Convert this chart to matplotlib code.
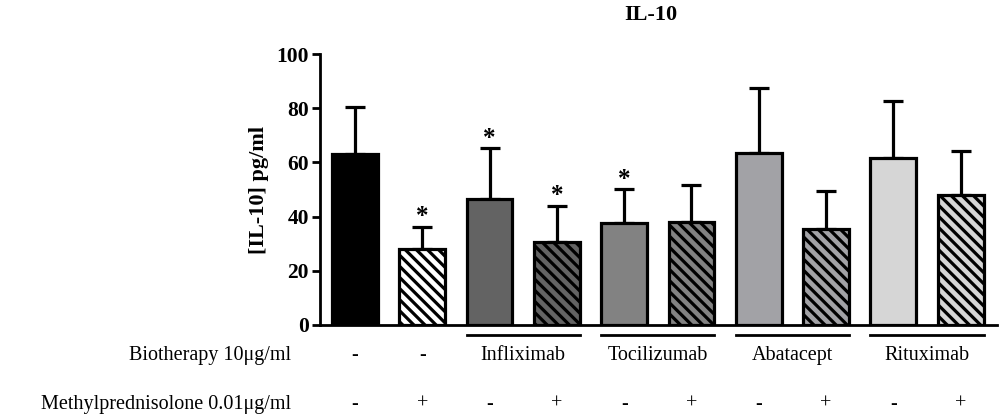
import matplotlib
matplotlib.use("Agg")
import matplotlib.pyplot as plt
import numpy as np

# values (pg/ml)
means = [63.1, 28.0, 46.4, 30.5, 37.8, 37.9, 63.6, 35.5, 61.5, 48.0]
err_top = [80.3, 36.3, 65.2, 44.0, 50.1, 51.5, 87.6, 49.6, 82.8, 64.3]
colors = ["#000000", "#ffffff", "#636363", "#828282", "#a2a2a6", "#d6d6d6"]
bar_colors = [colors[0], colors[1], colors[2], colors[2], colors[3], colors[3],
              colors[4], colors[4], colors[5], colors[5]]
hatched = [False, True, False, True, False, True, False, True, False, True]
stars = [False, True, True, True, True, False, False, False, False, False]
biotherapy = ["-", "-", "Infliximab", "Tocilizumab", "Abatacept", "Rituximab"]
mp = ["-", "+", "-", "+", "-", "+", "-", "+", "-", "+"]

plt.rcParams["font.family"] = ["Liberation Serif", "DejaVu Serif"]
plt.rcParams["hatch.linewidth"] = 2.3
plt.rcParams["hatch.color"] = "black"

fig = plt.figure(figsize=(9.99, 4.18), dpi=100)
ax = fig.add_axes([320/999, 1 - 325/418, 677/999, 271/418])

x = np.arange(len(means))
errs = np.array(err_top) - np.array(means)
for i in range(len(means)):
    ax.bar(x[i], means[i], width=0.68, color=bar_colors[i], edgecolor="black",
           linewidth=2.3, hatch="\\\\\\" if hatched[i] else None, zorder=2)
    ax.errorbar(x[i], means[i], yerr=[[0], [errs[i]]], fmt="none", ecolor="black",
                elinewidth=2.3, capsize=7.5, capthick=2.3, zorder=1)
    if stars[i]:
        ax.text(x[i], err_top[i] - 0.5, "*", ha="center", va="bottom",
                fontsize=18, fontweight="bold")

ax.set_xlim(-0.52, 9.54)
ax.set_ylim(0, 100)
ax.set_yticks([0, 20, 40, 60, 80, 100])
ax.set_xticks([])
for s in ["top", "right"]:
    ax.spines[s].set_visible(False)
ax.spines["left"].set_linewidth(2)
ax.spines["bottom"].set_linewidth(2)
ax.tick_params(axis="y", width=2, length=6, labelsize=15.5, pad=2)
for lab in ax.get_yticklabels():
    lab.set_fontweight("bold")
ax.set_ylabel("[IL-10] pg/ml", fontsize=16, fontweight="bold", labelpad=5)
fig.text(651/999, 1 - 15/418, "IL-10", ha="center", va="center",
         fontsize=16, fontweight="bold")

# treatment rows below the axis
trans = ax.get_xaxis_transform()
y_line = (325 - 335) / 271
y_bio = (325 - 360) / 271
y_mp = (325 - 409) / 271
ax.text(-0.95, y_bio, "Biotherapy 10\u03bcg/ml", transform=trans, ha="right",
        va="baseline", fontsize=14.5, clip_on=False)
ax.text(-0.95, y_mp, "Methylprednisolone 0.01\u03bcg/ml", transform=trans, ha="right",
        va="baseline", fontsize=14.5, clip_on=False)
for i in range(2):
    ax.text(x[i], y_bio, biotherapy[i], transform=trans, ha="center", va="baseline",
            fontsize=14.5, clip_on=False)
for g in range(4):
    left = x[2 + 2 * g] - 0.34
    right = x[3 + 2 * g] + 0.34
    ax.plot([left, right], [y_line, y_line], transform=trans, color="black",
            linewidth=2, clip_on=False)
    ax.text((left + right) / 2, y_bio, biotherapy[2 + g], transform=trans,
            ha="center", va="baseline", fontsize=14.5, clip_on=False)
for i in range(len(mp)):
    ax.text(x[i], y_mp, mp[i], transform=trans, ha="center", va="baseline",
            fontsize=14.5, clip_on=False)

fig.savefig("out.png", dpi=100)
